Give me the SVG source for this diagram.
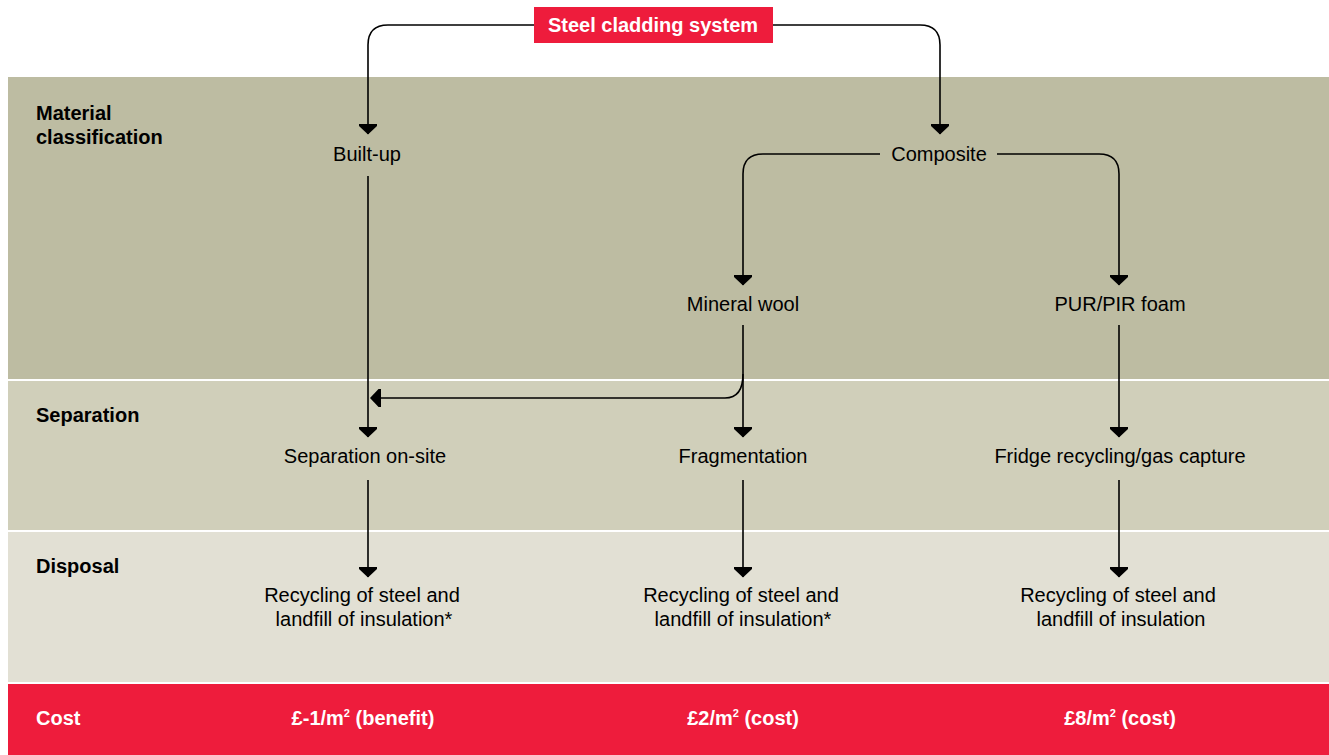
<svg xmlns="http://www.w3.org/2000/svg" width="1329" height="755" viewBox="0 0 1329 755">
<defs>
<style>
.t{font-family:"Liberation Sans",Arial,sans-serif;font-size:20px;fill:#000;text-anchor:middle}
.h{font-family:"Liberation Sans",Arial,sans-serif;font-size:20px;font-weight:bold;fill:#000}
.w{font-family:"Liberation Sans",Arial,sans-serif;font-size:20px;font-weight:bold;fill:#fff}
.c{stroke:#000;stroke-width:1.6;fill:none}
</style>
<marker id="ah" viewBox="0 0 18 11" refX="9" refY="10.5" markerWidth="18" markerHeight="11" markerUnits="userSpaceOnUse" orient="0">
<path d="M0,0 H18 V2.5 L9,11 L0,2.5 Z" fill="#000"/>
</marker>
</defs>
<rect width="1329" height="755" fill="#fff"/>
<g id="bands">
<rect x="8" y="77" width="1321" height="302" fill="#bdbca2"/>
<rect x="8" y="381" width="1321" height="149" fill="#d0cfba"/>
<rect x="8" y="532" width="1321" height="150" fill="#e2e0d4"/>
<rect x="8" y="684" width="1321" height="71" fill="#ee1c3c"/>
<text class="h" x="36" y="120">Material</text>
<text class="h" x="36" y="144">classification</text>
<text class="h" x="36" y="422">Separation</text>
<text class="h" x="36" y="573">Disposal</text>
<text class="w" x="36" y="725">Cost</text>
</g>
<g id="connectors">
<path class="c" d="M534,25 H388 Q368,25 368,45 V134" marker-end="url(#ah)"/>
<path class="c" d="M773,25 H920 Q940,25 940,45 V134" marker-end="url(#ah)"/>
<path class="c" d="M880,154 H763 Q743,154 743,174 V285" marker-end="url(#ah)"/>
<path class="c" d="M997,154 H1099 Q1119,154 1119,174 V285" marker-end="url(#ah)"/>
<path class="c" d="M368,176 V437" marker-end="url(#ah)"/>
<path class="c" d="M743,325 V437" marker-end="url(#ah)"/>
<path class="c" d="M743,374 Q743,398 725,398 H380"/>
<path d="M381,389 V407 H378.5 L370,398 L378.5,389 Z" fill="#000"/>
<path class="c" d="M1119,325 V437" marker-end="url(#ah)"/>
<path class="c" d="M368,480 V577" marker-end="url(#ah)"/>
<path class="c" d="M743,480 V577" marker-end="url(#ah)"/>
<path class="c" d="M1119,480 V577" marker-end="url(#ah)"/>
</g>
<g id="n-steel">
<rect x="534" y="7" width="239" height="36" fill="#ee1c3c"/>
<text class="w" x="653" y="32" text-anchor="middle">Steel cladding system</text>
</g>
<g id="n-builtup"><text class="t" x="367" y="161">Built-up</text></g>
<g id="n-composite"><text class="t" x="939" y="161">Composite</text></g>
<g id="n-mineral"><text class="t" x="743" y="311">Mineral wool</text></g>
<g id="n-pur"><text class="t" x="1120" y="311">PUR/PIR foam</text></g>
<g id="n-sep"><text class="t" x="365" y="463">Separation on-site</text></g>
<g id="n-frag"><text class="t" x="743" y="463">Fragmentation</text></g>
<g id="n-fridge"><text class="t" x="1120" y="463">Fridge recycling/gas capture</text></g>
<g id="n-d1"><text class="t" x="362" y="602">Recycling of steel and</text><text class="t" x="364" y="626">landfill of insulation*</text></g>
<g id="n-d2"><text class="t" x="741" y="602">Recycling of steel and</text><text class="t" x="743" y="626">landfill of insulation*</text></g>
<g id="n-d3"><text class="t" x="1118" y="602">Recycling of steel and</text><text class="t" x="1121" y="626">landfill of insulation</text></g>
<g id="n-c1"><text class="w" x="363" y="725" text-anchor="middle">£-1/m<tspan font-size="11" dy="-8">2</tspan><tspan dy="8"> (benefit)</tspan></text></g>
<g id="n-c2"><text class="w" x="743" y="725" text-anchor="middle">£2/m<tspan font-size="11" dy="-8">2</tspan><tspan dy="8"> (cost)</tspan></text></g>
<g id="n-c3"><text class="w" x="1120" y="725" text-anchor="middle">£8/m<tspan font-size="11" dy="-8">2</tspan><tspan dy="8"> (cost)</tspan></text></g>
</svg>
